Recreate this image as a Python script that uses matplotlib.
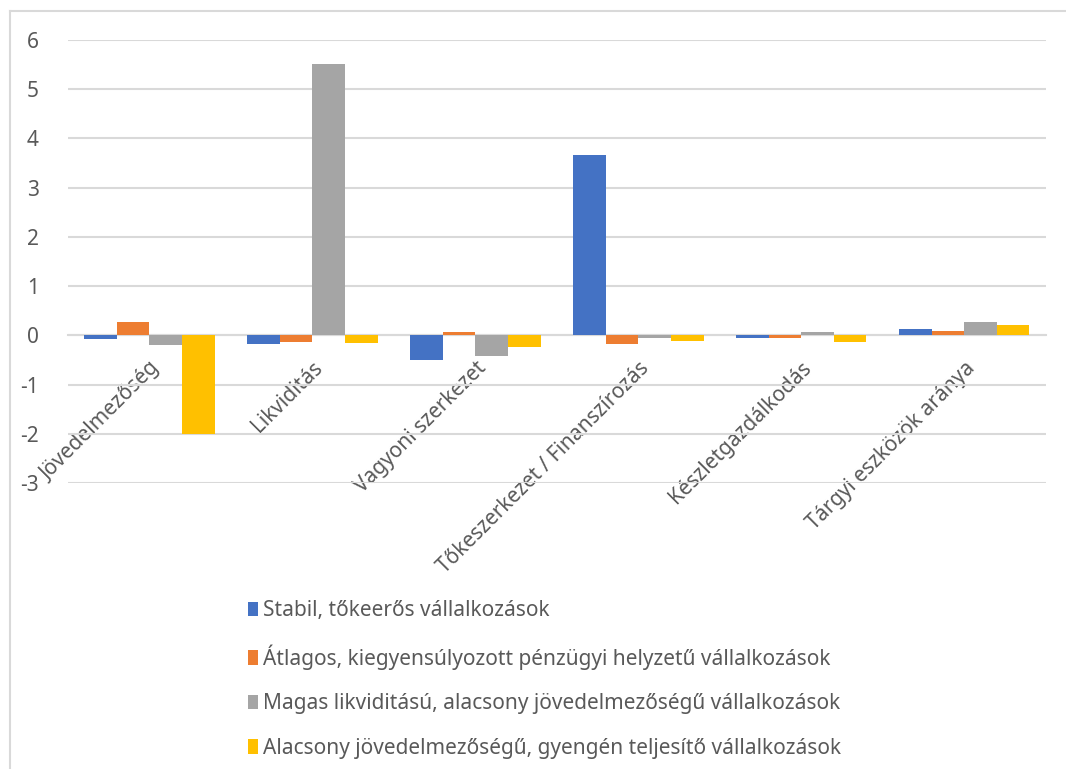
import matplotlib.pyplot as plt
import numpy as np
from matplotlib.lines import Line2D

plt.rcParams["font.family"] = ["Noto Sans", "DejaVu Sans"]
plt.rcParams["axes.unicode_minus"] = False

categories = [
    "Jövedelmezőség",
    "Likviditás",
    "Vagyoni szerkezet",
    "Tőkeszerkezet / Finanszírozás",
    "Készletgazdálkodás",
    "Tárgyi eszközök aránya",
]
series_names = [
    "Stabil, tőkeerős vállalkozások",
    "Átlagos, kiegyensúlyozott pénzügyi helyzetű vállalkozások",
    "Magas likviditású, alacsony jövedelmezőségű vállalkozások",
    "Alacsony jövedelmezőségű, gyengén teljesítő vállalkozások",
]
stabil = [-0.08, -0.17, -0.50, 3.66, -0.05, 0.12]
atlagos = [0.27, -0.13, 0.07, -0.17, -0.05, 0.09]
magas_likv = [-0.20, 5.51, -0.42, -0.06, 0.07, 0.28]
alacsony = [-2.00, -0.15, -0.24, -0.11, -0.13, 0.21]
colors = ["#4472C4", "#ED7D31", "#A5A5A5", "#FFC000"]

text_color = "#595959"
grid_color = "#D9D9D9"

fig = plt.figure(figsize=(10.66, 7.69), dpi=100)
ax = fig.add_axes([0.0638, 0.372, 0.9172, 0.576])

x = np.arange(len(categories))
width = 0.2
all_series = [stabil, atlagos, magas_likv, alacsony]
for i, (vals, name, col) in enumerate(zip(all_series, series_names, colors)):
    ax.bar(x + (i - 1.5) * width, vals, width=width, color=col,
           label=name, zorder=3)

ax.set_xlim(-0.5, len(categories) - 0.5)
ax.set_ylim(-3, 6)
ax.set_yticks(range(-3, 7))
ax.yaxis.grid(True, color=grid_color, linewidth=1.5, zorder=0)
ax.tick_params(axis="y", length=0, pad=21, labelsize=15, labelcolor=text_color)

# horizontal axis crosses at zero, labels hang from it
for side in ("left", "right", "top"):
    ax.spines[side].set_visible(False)
ax.spines["bottom"].set_position(("data", 0))
ax.spines["bottom"].set_color(grid_color)
ax.spines["bottom"].set_linewidth(1.5)
ax.spines["bottom"].set_zorder(2)
ax.set_xticks(x)
ax.set_xticklabels(categories, rotation=45, ha="right", va="top",
                   rotation_mode="anchor")
ax.tick_params(axis="x", length=0, pad=16, labelsize=15, labelcolor=text_color)

leg = fig.legend(loc="upper left", bbox_to_anchor=(0.2326, 0.2195),
                 frameon=False, fontsize=15, labelcolor=text_color,
                 handlelength=0.5, handleheight=0.7, handletextpad=0.2,
                 labelspacing=1.12, borderpad=0, borderaxespad=0)

# chart border (top and left edges)
fig.add_artist(Line2D([0.0094, 1.0], [0.9857, 0.9857], transform=fig.transFigure,
                      color=grid_color, linewidth=1.5))
fig.add_artist(Line2D([0.0094, 0.0094], [0.0, 0.9857], transform=fig.transFigure,
                      color=grid_color, linewidth=1.5))

fig.savefig("out.png", dpi=100)
